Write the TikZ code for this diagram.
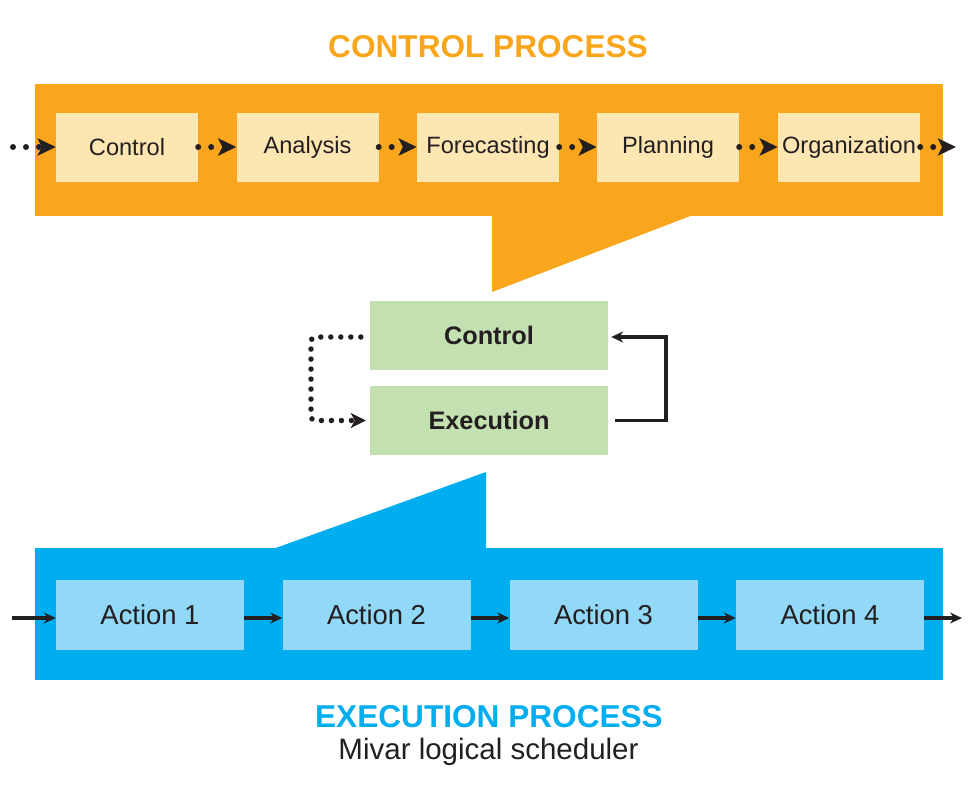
\documentclass[tikz,border=0pt]{standalone}
\usepackage{fontspec}
\setmainfont{Liberation Sans}
\usetikzlibrary{positioning,arrows.meta}

\definecolor{ctlorange}{HTML}{F9A61C}
\definecolor{ctllight}{HTML}{FEE6B2}
\definecolor{loopgreen}{HTML}{C3E1B0}
\definecolor{exeblue}{HTML}{00AEEF}
\definecolor{exelight}{HTML}{92D9F8}
\definecolor{inkdark}{HTML}{231F20}

\tikzset{
    ctlbox/.style={fill=ctllight, minimum width=142, minimum height=69, inner sep=0pt,
        text=inkdark, font=\fontsize{23.6}{28}\selectfont},
    loopbox/.style={fill=loopgreen, minimum width=238, minimum height=69, inner sep=0pt,
        text=inkdark, font=\bfseries\fontsize{25.3}{30}\selectfont},
    actbox/.style={fill=exelight, minimum width=188, minimum height=70, inner sep=0pt,
        text=inkdark, font=\fontsize{27.4}{32}\selectfont},
    dotarrow/.style={draw=inkdark, line width=6pt, line cap=round,
        dash pattern=on 0pt off 13pt, -{Stealth[length=18pt, width=17pt, inset=4pt]}},
    solarrow/.style={draw=inkdark, line width=3.5pt, -{Stealth[length=12pt, width=11pt]}},
}

\begin{document}
\begin{tikzpicture}[x=1pt, y=-1pt]

    \useasboundingbox (0,0) rectangle (978,798);

    % control process band
    \fill[ctlorange] (35,84) rectangle (943,216);
    \fill[ctlorange] (492,215) -- (693,215) -- (492,292) -- cycle;
    \node[text=ctlorange, font=\bfseries\fontsize{31.6}{36}\selectfont, anchor=base] (ctltitle) at (488,57) {CONTROL PROCESS};

    \node[ctlbox] (control) at (127,147) {Control};
    \node[ctlbox] (analysis) at (307.5,147) {Analysis};
    \node[ctlbox] (forecast) at (488,147) {Forecasting};
    \node[ctlbox] (planning) at (668,147) {Planning};
    \node[ctlbox] (organize) at (849,147) {Organization};
    \coordinate (ctlin) at (13,147);
    \coordinate (ctlout) at (956,147);

    \path
        (ctlin) edge[dotarrow] (control.west)
        (control.east) edge[dotarrow] (analysis.west)
        (analysis.east) edge[dotarrow] (forecast.west)
        (forecast.east) edge[dotarrow] (planning.west)
        (planning.east) edge[dotarrow] (organize.west)
        (organize.east) edge[dotarrow] (ctlout);

    % control / execution loop
    \node[loopbox] (ctl) at (489,335.5) {Control};
    \node[loopbox] (exe) at (489,420.5) {Execution};

    \draw[dotarrow, line width=5.5pt, dash pattern=on 0pt off 10pt, rounded corners=4pt,
        -{Stealth[length=15pt, width=15pt, inset=4pt]}]
        ([xshift=-9pt, yshift=-1.5pt]ctl.west) -| (311,378) |- ([xshift=-4pt]exe.west);
    \draw[solarrow, line join=miter]
        ([xshift=7pt]exe.east) -| (666,378) |- ([xshift=3pt, yshift=-1.5pt]ctl.east);

    % execution process band
    \fill[exeblue] (35,548) rectangle (943,680);
    \fill[exeblue] (273,549) -- (486,472) -- (486,549) -- cycle;

    \node[actbox] (act1) at (150,615) {Action 1};
    \node[actbox] (act2) at (376.5,615) {Action 2};
    \node[actbox] (act3) at (603.5,615) {Action 3};
    \node[actbox] (act4) at (830,615) {Action 4};
    \coordinate (exein) at (12,618);
    \coordinate (exeout) at (962,618);

    \path
        (exein) edge[solarrow] (act1.west |- exein)
        (act1.east |- exein) edge[solarrow] (act2.west |- exein)
        (act2.east |- exein) edge[solarrow] (act3.west |- exein)
        (act3.east |- exein) edge[solarrow] (act4.west |- exein)
        (act4.east |- exein) edge[solarrow] (exeout);

    \node[text=exeblue, font=\bfseries\fontsize{31.6}{36}\selectfont, anchor=base] (exetitle) at (489,727) {EXECUTION PROCESS};
    \node[text=inkdark, font=\fontsize{29.5}{34}\selectfont, anchor=base] (subtitle) at (488.5,759) {Mivar logical scheduler};

\end{tikzpicture}
\end{document}
